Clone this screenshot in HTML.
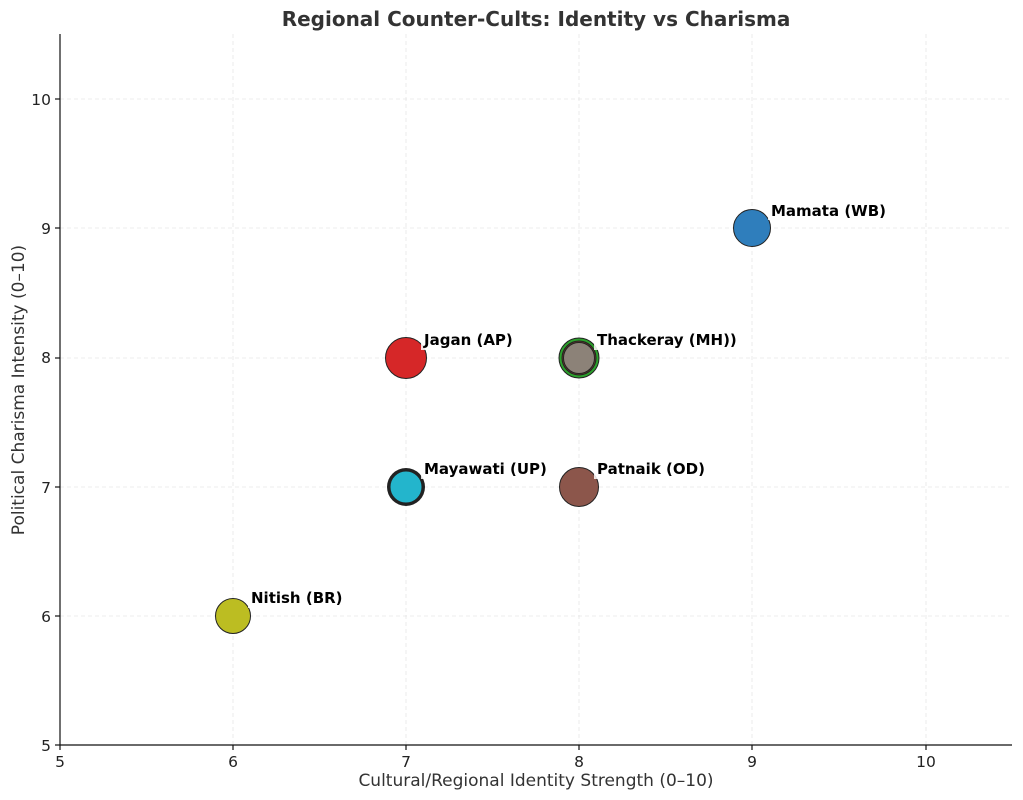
<!DOCTYPE html>
<html><head><meta charset="utf-8"><style>body{margin:0;background:#fff}svg{display:block}</style></head><body>
<svg width="1023" height="800" xmlns="http://www.w3.org/2000/svg" font-family="DejaVu Sans, Liberation Sans, sans-serif">
<rect width="1023" height="800" fill="#fff"/>
<g stroke="#e6e6e6" stroke-width="0.8" stroke-dasharray="4,3">
<line x1="233" y1="34" x2="233" y2="745"/><line x1="406" y1="34" x2="406" y2="745"/><line x1="579" y1="34" x2="579" y2="745"/><line x1="752" y1="34" x2="752" y2="745"/><line x1="926" y1="34" x2="926" y2="745"/>
<line x1="60" y1="616" x2="1012" y2="616"/><line x1="60" y1="487" x2="1012" y2="487"/><line x1="60" y1="358" x2="1012" y2="358"/><line x1="60" y1="228" x2="1012" y2="228"/><line x1="60" y1="99" x2="1012" y2="99"/>
</g>
<g stroke="#111" stroke-width="1.2">
<line x1="60" y1="34" x2="60" y2="745"/><line x1="60" y1="745" x2="1012" y2="745"/>
<line x1="60" y1="745" x2="60" y2="750"/><line x1="233" y1="745" x2="233" y2="750"/><line x1="406" y1="745" x2="406" y2="750"/><line x1="579" y1="745" x2="579" y2="750"/><line x1="752" y1="745" x2="752" y2="750"/><line x1="926" y1="745" x2="926" y2="750"/>
<line x1="55" y1="745" x2="60" y2="745"/><line x1="55" y1="616" x2="60" y2="616"/><line x1="55" y1="487" x2="60" y2="487"/><line x1="55" y1="358" x2="60" y2="358"/><line x1="55" y1="228" x2="60" y2="228"/><line x1="55" y1="99" x2="60" y2="99"/>
</g>
<g font-size="15.5" fill="#222" text-anchor="middle">
<text x="60" y="767">5</text><text x="233" y="767">6</text><text x="406" y="767">7</text><text x="579" y="767">8</text><text x="752" y="767">9</text><text x="926" y="767">10</text>
</g>
<g font-size="15.5" fill="#222" text-anchor="end">
<text x="51" y="751">5</text><text x="51" y="622">6</text><text x="51" y="493">7</text><text x="51" y="363">8</text><text x="51" y="234">9</text><text x="51" y="105">10</text>
</g>
<text x="536" y="786" font-size="17" fill="#333" text-anchor="middle">Cultural/Regional Identity Strength (0–10)</text>
<text transform="translate(24,390) rotate(-90)" font-size="17" fill="#333" text-anchor="middle">Political Charisma Intensity (0–10)</text>
<text x="536" y="26" font-size="20" font-weight="bold" fill="#333" text-anchor="middle">Regional Counter-Cults: Identity vs Charisma</text>
<g stroke="#222" stroke-width="1">
<circle cx="752" cy="228" r="18.5" fill="#2f7ebc"/>
<circle cx="406" cy="358" r="20.5" fill="#d62728"/>
<circle cx="579" cy="358" r="20" fill="#2ca02c"/>
<circle cx="579" cy="358" r="17" fill="#6b3a2a"/>
<circle cx="579" cy="358" r="15.5" fill="#8c8278"/>
<circle cx="406" cy="487" r="19" fill="#222" stroke-width="0"/>
<circle cx="406" cy="487" r="16" fill="#23b5cc"/>
<circle cx="579" cy="487" r="19.5" fill="#8c564b"/>
<circle cx="233" cy="616" r="17.5" fill="#bcbd22"/>
</g>
<g fill="#fff" fill-opacity="0.85">
<rect x="768" y="201" width="124" height="19"/>
<rect x="421" y="331" width="98" height="19"/>
<rect x="594" y="331" width="148" height="19"/>
<rect x="421" y="460" width="134" height="19"/>
<rect x="594" y="460" width="118" height="19"/>
<rect x="248" y="589" width="100" height="19"/>
</g>
<g font-size="15" font-weight="bold" fill="#000">
<text x="771" y="216">Mamata (WB)</text>
<text x="424" y="345">Jagan (AP)</text>
<text x="597" y="345">Thackeray (MH))</text>
<text x="424" y="474">Mayawati (UP)</text>
<text x="597" y="474">Patnaik (OD)</text>
<text x="251" y="603">Nitish (BR)</text>
</g>
</svg>
</body></html>
